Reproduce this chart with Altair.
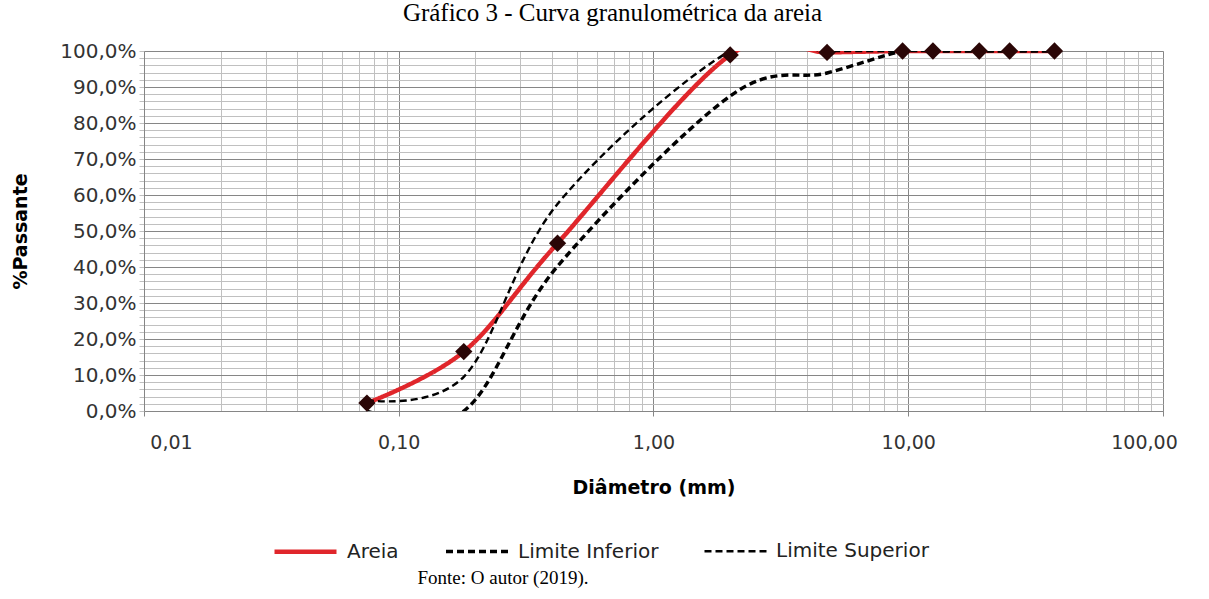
import altair as alt
import pandas as pd

# ---- data ----
diametros = [0.075, 0.18, 0.42, 2.0, 4.8, 9.5, 12.5, 19.0, 25.0, 37.5]
areia = [2.2, 16.5, 46.6, 98.9, 99.6, 100.0, 100.0, 100.0, 100.0, 100.0]
limite_inferior = [0.0, 0.0, 40.2, 87.5, 93.9, 100.0, 100.0, 100.0, 100.0, 100.0]
limite_superior = [3.0, 9.5, 57.5, 100.0, 100.0, 100.0, 100.0, 100.0, 100.0, 100.0]
series_names = ["Areia", "Limite Inferior", "Limite Superior"]

x_grid = [k * 10.0 ** e for e in range(-2, 2) for k in range(1, 10)] + [100.0]
y_grid = list(range(0, 101, 2))

title_text = "Gráfico 3 - Curva granulométrica da areia"
caption_text = "Fonte: O autor (2019)."

rows = []
for name, vals in zip(series_names, [areia, limite_inferior, limite_superior]):
    for d, v in zip(diametros, vals):
        rows.append({"d": d, "p": v, "serie": name})
df = pd.DataFrame(rows)
df_areia = df[df["serie"] == "Areia"]

AX_FONT = "DejaVu Sans"
MAJOR = "#868686"
MINOR = "#c0c0c0"

is_decade = "abs(log(datum.value)/LN10 - round(log(datum.value)/LN10)) < 0.001"

x_enc = alt.X(
    "d:Q",
    scale=alt.Scale(type="log", domain=[0.01, 100], nice=False),
    axis=alt.Axis(
        values=x_grid, tickCount=200,
        title="Diâmetro (mm)",
        titleFont=AX_FONT, titleFontSize=19, titleFontWeight="bold", titleColor="#000",
        titleY=76, titleBaseline="middle",
        labelExpr=f"{is_decade} ? replace(format(datum.value, '.2f'), '.', ',') : ''",
        labelFont=AX_FONT, labelFontSize=19, labelColor="#333",
        labelPadding=17, labelFlush=False, labelOverlap=False,
        labelOffset={"condition": [{"test": "datum.value < 0.011", "value": 27},
                                   {"test": "datum.value > 99", "value": -19}], "value": 0},
        tickSize=5,
        tickColor={"condition": {"test": is_decade, "value": MAJOR}, "value": "transparent"},
        gridColor={"condition": {"test": is_decade, "value": MAJOR}, "value": MINOR},
        gridWidth=1, domainColor=MAJOR,
    ),
)

y_enc = alt.Y(
    "p:Q",
    scale=alt.Scale(domain=[0, 100], nice=False),
    axis=alt.Axis(
        values=y_grid, tickCount=200,
        title="%Passante",
        titleFont=AX_FONT, titleFontSize=19, titleFontWeight="bold", titleColor="#000",
        titleX=-124, titleY=180, titleAngle=-90, titleBaseline="middle", titleAlign="center",
        labelExpr="datum.value % 10 === 0 ? replace(format(datum.value, '.1f'), '.', ',') + '%' : ''",
        labelFont=AX_FONT, labelFontSize=20, labelColor="#333",
        labelPadding=3, labelOverlap=False,
        tickSize=5, tickColor=MINOR,
        gridColor={"condition": {"test": "datum.value % 10 === 0", "value": MAJOR}, "value": MINOR},
        gridWidth=1, domainColor=MAJOR,
    ),
)

legend = alt.Legend(
    title=None, orient="none", legendX=128, legendY=467, direction="horizontal",
    symbolType="stroke", symbolSize=3844, labelFont=AX_FONT, labelFontSize=20,
    labelColor="#222", columnPadding=40, symbolOffset=0, labelOffset=8,
)

lines = alt.Chart(df).mark_line(interpolate="cardinal", clip=True).encode(
    x=x_enc,
    y=y_enc,
    color=alt.Color("serie:N", scale=alt.Scale(domain=series_names, range=["#e0262b", "#000000", "#000000"]), legend=legend),
    strokeDash=alt.StrokeDash("serie:N", scale=alt.Scale(domain=series_names, range=[[1, 0], [7, 4], [7, 4]]), legend=legend),
    strokeWidth=alt.StrokeWidth("serie:N", scale=alt.Scale(domain=series_names, range=[4.5, 2.4, 2.4]), legend=legend),
    order=alt.Order("d:Q"),
)

markers = alt.Chart(df_areia).mark_point(shape="diamond", filled=True, size=300, color="#2a0606", opacity=1).encode(
    x=alt.X("d:Q"), y=alt.Y("p:Q")
)

caption = alt.Chart(pd.DataFrame({"t": [caption_text]})).mark_text(
    font="Liberation Serif", fontSize=19, color="#000", align="center", baseline="middle"
).encode(x=alt.value(359), y=alt.value(527), text="t:N")

chart = alt.layer(lines, markers, caption).properties(
    width=1019, height=360,
    title=alt.TitleParams(title_text, font="Liberation Serif", fontSize=25, fontWeight="normal",
                          color="#000", anchor="middle", dx=-41, offset=15),
    autosize=alt.AutoSizeParams(type="none"),
    padding={"left": 144, "top": 51, "right": 46, "bottom": 188},
).configure_view(stroke=None).configure(background="white")

chart.save("out.html", embed_options={"renderer": "svg", "actions": False})
